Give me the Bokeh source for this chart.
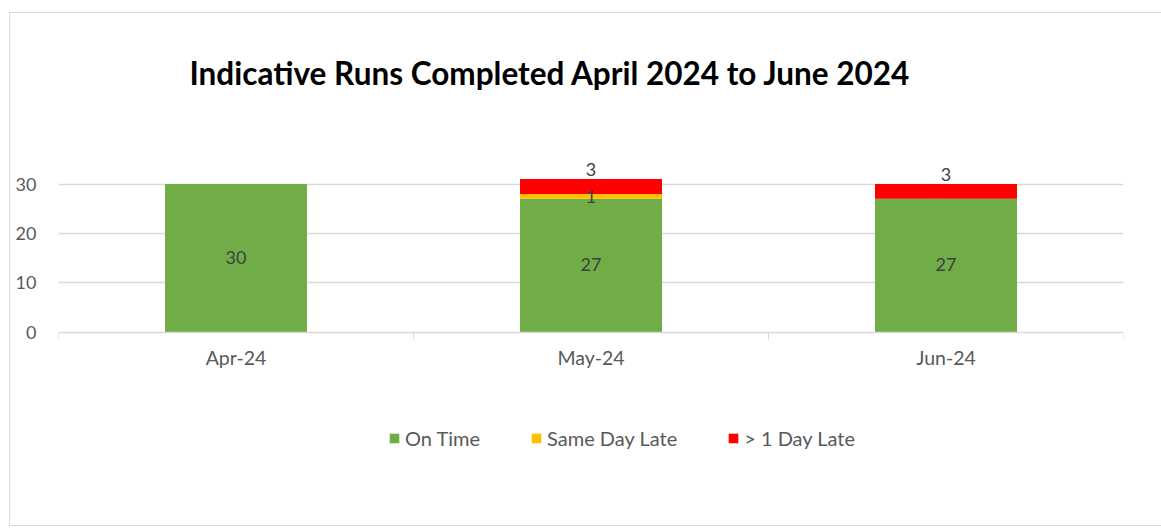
from bokeh.plotting import figure
from bokeh.models import (ColumnDataSource, Range1d, FixedTicker, LabelSet, Legend, LegendItem)
from bokeh.core.properties import value
from bokeh.embed import file_html
from bokeh.resources import INLINE

# ---- data ----
months = ["Apr-24", "May-24", "Jun-24"]
on_time = [30, 27, 27]
same_day_late = [0, 1, 0]
over_1_day_late = [0, 3, 3]
series_names = ["On Time", "Same Day Late", "> 1 Day Late"]
series_colors = ["#70AD47", "#FFC000", "#FF0000"]
y_ticks = [0, 10, 20, 30]

FONT = "Lato"
GRAY = "#595959"

xs = [i + 0.5 for i in range(len(months))]
b1 = on_time
b2 = [a + b for a, b in zip(b1, same_day_late)]
b3 = [a + b for a, b in zip(b2, over_1_day_late)]

src = ColumnDataSource(dict(
    x=xs, month=months,
    on=on_time, sd=same_day_late, late=over_1_day_late,
    b0=[0] * len(xs), b1=b1, b2=b2, b3=b3,
))

# frame extends below zero so the legend can sit inside it
p = figure(width=1152, height=514, output_backend="svg", toolbar_location=None,
           x_range=Range1d(0, len(months)), y_range=Range1d(-28.2, 41.04),
           min_border_left=48, min_border_right=39, min_border_top=114, min_border_bottom=56,
           title="Indicative Runs Completed April 2024 to June 2024")
p.margin = (12, 0, 0, 9)
p.styles = {"border-left": "1px solid #d9d9d9", "border-top": "1px solid #d9d9d9",
            "border-bottom": "1px solid #d9d9d9", "border-right": "none"}
p.outline_line_color = None
p.background_fill_color = "white"
p.border_fill_color = "white"

p.title.text_font = FONT
p.title.text_font_size = "31.5px"
p.title.text_font_style = "bold"
p.title.text_color = "black"
p.title.align = "left"
p.title.offset = 131
p.title.standoff = 76

width = 0.4
r_on = p.vbar(x="x", bottom="b0", top="b1", width=width, fill_color=series_colors[0],
              line_color=None, source=src)
r_sd = p.vbar(x="x", bottom="b1", top="b2", width=width, fill_color=series_colors[1],
              line_color=None, source=src)
r_late = p.vbar(x="x", bottom="b2", top="b3", width=width, fill_color=series_colors[2],
                line_color=None, source=src)

# x axis at zero: labels at category centres, tick marks between categories
xa = p.xaxis[0]
xa.fixed_location = 0
xa.ticker = FixedTicker(ticks=xs, minor_ticks=list(range(len(months) + 1)))
xa.major_label_overrides = {x: m for x, m in zip(xs, months)}
xa.major_tick_out = 0
xa.major_tick_in = 0
xa.minor_tick_out = 7
xa.minor_tick_in = 0
xa.minor_tick_line_color = "#d9d9d9"
xa.axis_line_color = "#d9d9d9"
xa.axis_line_width = 1.5
xa.major_label_text_font = FONT
xa.major_label_text_font_size = "19.5px"
xa.major_label_text_color = GRAY
xa.major_label_standoff = 7
p.xgrid.visible = False

ya = p.yaxis[0]
ya.ticker = FixedTicker(ticks=y_ticks)
ya.axis_line_color = None
ya.major_tick_line_color = None
ya.minor_tick_line_color = None
ya.major_label_text_font = FONT
ya.major_label_text_font_size = "18px"
ya.major_label_text_color = GRAY
ya.major_label_standoff = 16
p.ygrid.ticker = FixedTicker(ticks=y_ticks[1:])
p.ygrid.grid_line_color = "#d9d9d9"
p.ygrid.grid_line_width = 1.5

# data labels
def lab_src(vals, ys):
    d = dict(x=[], y=[], t=[])
    for x, v, y in zip(xs, vals, ys):
        if v > 0:
            d["x"].append(x); d["y"].append(y); d["t"].append(str(v))
    return ColumnDataSource(d)

on_src = lab_src(on_time, [v / 2 for v in on_time])
sd_src = lab_src(same_day_late, [(a + b) / 2 for a, b in zip(b1, b2)])
late_src = lab_src(over_1_day_late, b3)

for s, base, yo in [(on_src, "middle", 1), (sd_src, "middle", 0), (late_src, "bottom", 3)]:
    p.add_layout(LabelSet(x="x", y="y", text="t", source=s, text_align="center",
                          text_baseline=base, y_offset=yo, text_font=value(FONT),
                          text_font_size=value("18px"), text_color="#404040"))

legend = Legend(items=[LegendItem(label=series_names[0], renderers=[r_on]),
                       LegendItem(label=series_names[1], renderers=[r_sd]),
                       LegendItem(label=series_names[2], renderers=[r_late])],
                orientation="horizontal", location=(330, 21), padding=0, margin=0,
                spacing=50, glyph_width=12, glyph_height=12, label_standoff=5,
                label_text_font=FONT, label_text_font_size="20px", label_text_color=GRAY,
                border_line_color=None, background_fill_alpha=0)
p.add_layout(legend, "center")

open("out.html", "w").write(file_html(p, INLINE))
